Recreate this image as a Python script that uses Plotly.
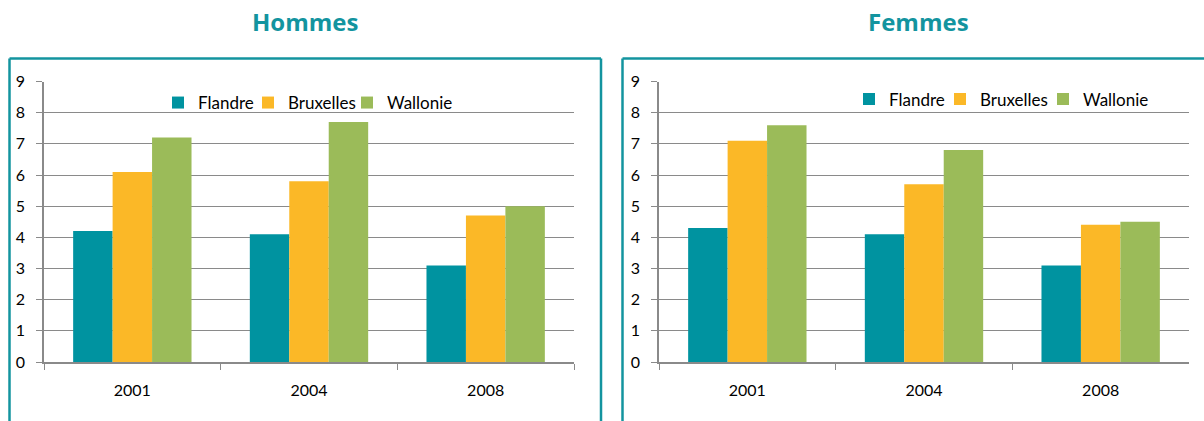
import plotly.graph_objects as go

years = ["2001", "2004", "2008"]
regions = ["Flandre", "Bruxelles", "Wallonie"]
hommes_flandre = [4.2, 4.1, 3.1]
hommes_bruxelles = [6.1, 5.8, 4.7]
hommes_wallonie = [7.2, 7.7, 5.0]
femmes_flandre = [4.3, 4.1, 3.1]
femmes_bruxelles = [7.1, 5.7, 4.4]
femmes_wallonie = [7.6, 6.8, 4.5]
panel_titles = ["Hommes", "Femmes"]
y_ticks = list(range(0, 10))

colors = {"Flandre": "#0093A0", "Bruxelles": "#FBB827", "Wallonie": "#9BBB59"}
TEAL = "#13949F"
GRID = "#8A8A8A"
W, H = 1204, 421

def px_x(p):
    return p / W

def px_y(p):
    return 1 - p / H

# legend entry positions (left edge of colour square, centre y), in pixels
legend_pos_left = [(173, 103), (263, 103), (362, 103)]
legend_pos_right = [(864, 99.5), (955, 99.5), (1058, 99.5)]

fig = go.Figure()
hommes = [hommes_flandre, hommes_bruxelles, hommes_wallonie]
femmes = [femmes_flandre, femmes_bruxelles, femmes_wallonie]
legend_ids = []
for i, (name, vals) in enumerate(zip(regions, hommes)):
    lid = "legend" if i == 0 else "legend%d" % (i + 1)
    legend_ids.append((lid, legend_pos_left[i]))
    fig.add_trace(go.Bar(x=years, y=vals, name=name, marker_color=colors[name],
                         marker_line_width=0, xaxis="x", yaxis="y", legend=lid))
for i, (name, vals) in enumerate(zip(regions, femmes)):
    lid = "legend%d" % (i + 4)
    legend_ids.append((lid, legend_pos_right[i]))
    fig.add_trace(go.Bar(x=years, y=vals, name=name, marker_color=colors[name],
                         marker_line_width=0, xaxis="x2", yaxis="y2", legend=lid))

tickfont = dict(family="Lato", size=16, color="#000000")
ydom = [px_y(362), px_y(81.5)]

def xax(dom, anchor):
    return dict(domain=dom, anchor=anchor, type="category", showline=True, linecolor=GRID,
                linewidth=1.5, ticks="outside", tickson="boundaries", ticklen=6, tickcolor=GRID,
                tickwidth=1.3, tickfont=tickfont, showgrid=False, ticklabelstandoff=13,
                fixedrange=True, automargin=False)

def yax(anchor):
    return dict(domain=ydom, anchor=anchor, range=[0, 9], tickvals=y_ticks, showline=True,
                linecolor=GRID, linewidth=1.5, ticks="outside", ticklen=6, tickcolor=GRID,
                tickwidth=1.3, showgrid=True, gridcolor=GRID, gridwidth=1.3, tickfont=tickfont,
                zeroline=False, ticklabelstandoff=8, automargin=False)

legend_common = dict(orientation="h", font=dict(family="Lato", size=17, color="#000000"),
                     bgcolor="rgba(0,0,0,0)", yanchor="middle", xanchor="left",
                     itemclick=False)

fig.update_layout(
    width=W, height=H, margin=dict(l=0, r=0, t=0, b=0, autoexpand=False),
    paper_bgcolor="white", plot_bgcolor="white",
    barmode="group", bargap=0.33, bargroupgap=0,
    xaxis=xax([px_x(44), px_x(574)], "y"),
    yaxis=yax("x"),
    xaxis2=xax([px_x(659), px_x(1189)], "y2"),
    yaxis2=yax("x2"),
    showlegend=True,
)
for lid, (sx, sy) in legend_ids:
    fig.update_layout({lid: dict(x=px_x(sx - 15), y=px_y(sy), **legend_common)})

# titles
for text, cx in zip(panel_titles, [305, 918]):
    fig.add_annotation(text="<b>%s</b>" % text, x=px_x(cx), y=px_y(22), xref="paper", yref="paper",
                       showarrow=False, xanchor="center", yanchor="middle",
                       font=dict(family="Open Sans", size=24, color=TEAL))

# panel frames
for x0, x1 in [(9.5, 601), (622.5, 1230)]:
    fig.add_shape(type="line", xref="paper", yref="paper", x0=px_x(x0), x1=px_x(x0),
                  y0=px_y(58.5), y1=px_y(440), line=dict(color=TEAL, width=2.5))
    fig.add_shape(type="line", xref="paper", yref="paper", x0=px_x(x0), x1=px_x(x1),
                  y0=px_y(58.5), y1=px_y(58.5), line=dict(color=TEAL, width=2.5))
    fig.add_shape(type="line", xref="paper", yref="paper", x0=px_x(x1), x1=px_x(x1),
                  y0=px_y(58.5), y1=px_y(440), line=dict(color=TEAL, width=2.5))

fig.write_html("out.html")
